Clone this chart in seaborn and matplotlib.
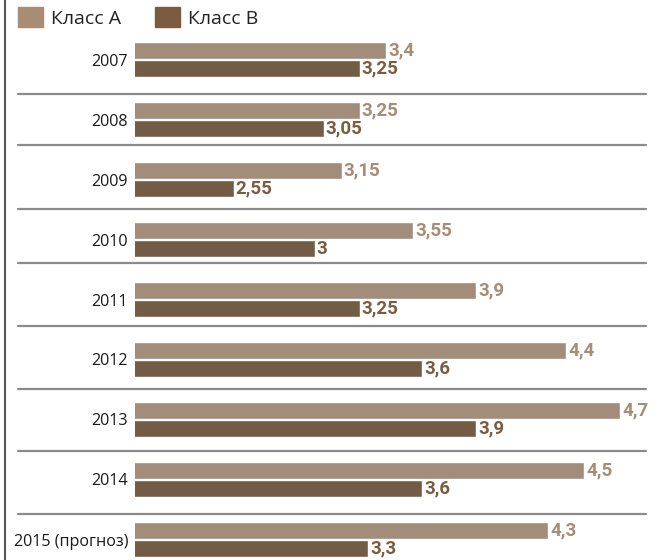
import pandas as pd
import matplotlib.pyplot as plt
import seaborn as sns
from matplotlib.lines import Line2D

years = ['2007', '2008', '2009', '2010', '2011', '2012', '2013', '2014', '2015 (прогноз)']
class_a = [3.4, 3.25, 3.15, 3.55, 3.9, 4.4, 4.7, 4.5, 4.3]
class_b = [3.25, 3.05, 2.55, 3.0, 3.25, 3.6, 3.9, 3.6, 3.3]
series_names = ['Класс А', 'Класс В']

COLOR_A = '#a88c74'
COLOR_B = '#7b5c3e'

df = pd.DataFrame({
    'year': years * 2,
    'value': class_a + class_b,
    'cls': [series_names[0]] * len(years) + [series_names[1]] * len(years),
})

sns.set_style('white')
plt.rcParams['font.family'] = ['Open Sans', 'DejaVu Sans']

W, H = 668, 560
fig = plt.figure(figsize=(W / 100, H / 100), dpi=100)
ax_left, ax_right, ax_top, ax_bottom = 135, 646, 30, 560
ax = fig.add_axes([ax_left / W, 1 - ax_bottom / H, (ax_right - ax_left) / W, (ax_bottom - ax_top) / H])

sns.barplot(data=df, y='year', x='value', hue='cls', orient='h',
            palette=[COLOR_A, COLOR_B], width=0.6, gap=0.1, ax=ax, legend=False)

# px per unit ~180, axis starts at 2.0
ax.set_xlim(2.0, 2.0 + (ax_right - ax_left) / 179.6)
ax.set_ylim(8 + 20.5 / 60, -29.5 / 60)

for container, color in zip(ax.containers, [COLOR_A, COLOR_B]):
    labels = [f"{v:g}".replace('.', ',') for v in container.datavalues]
    ax.bar_label(container, labels=labels, padding=1.5, color=color,
                 fontsize=13.5, fontweight='bold', family=['Roboto', 'DejaVu Sans'])

# separators between groups (pixel rows from the source layout)
sep_px = [94, 145, 209, 263, 326, 389, 451, 514]
for y in sep_px:
    yd = -29.5 / 60 + (y - ax_top) / 60
    ax.axhline(yd, xmin=(18 - ax_left) / (ax_right - ax_left), xmax=1.0,
               color='#8a8a8a', lw=1.6, clip_on=False)

for s in ax.spines.values():
    s.set_visible(False)
ax.set_xticks([])
ax.set_xlabel('')
ax.set_ylabel('')
ax.tick_params(axis='y', length=0, pad=5, labelsize=11.6, labelcolor='#1a1a1a')

# left border line
fig.add_artist(Line2D([5 / W, 5 / W], [0, 1], color='#555555', lw=1.5))

handles = [plt.Rectangle((0, 0), 1, 1, color=COLOR_A), plt.Rectangle((0, 0), 1, 1, color=COLOR_B)]
fig.legend(handles, series_names, loc='upper left', bbox_to_anchor=(18 / W, 1 - 7 / H),
           ncol=2, frameon=False, handlelength=1.3, handleheight=1.2,
           handletextpad=0.4, columnspacing=1.75, borderpad=0, borderaxespad=0,
           prop={'family': ['Open Sans', 'DejaVu Sans'], 'size': 14})
for t in fig.legends[0].get_texts():
    t.set_color('#222222')

fig.savefig('out.png', dpi=100)
